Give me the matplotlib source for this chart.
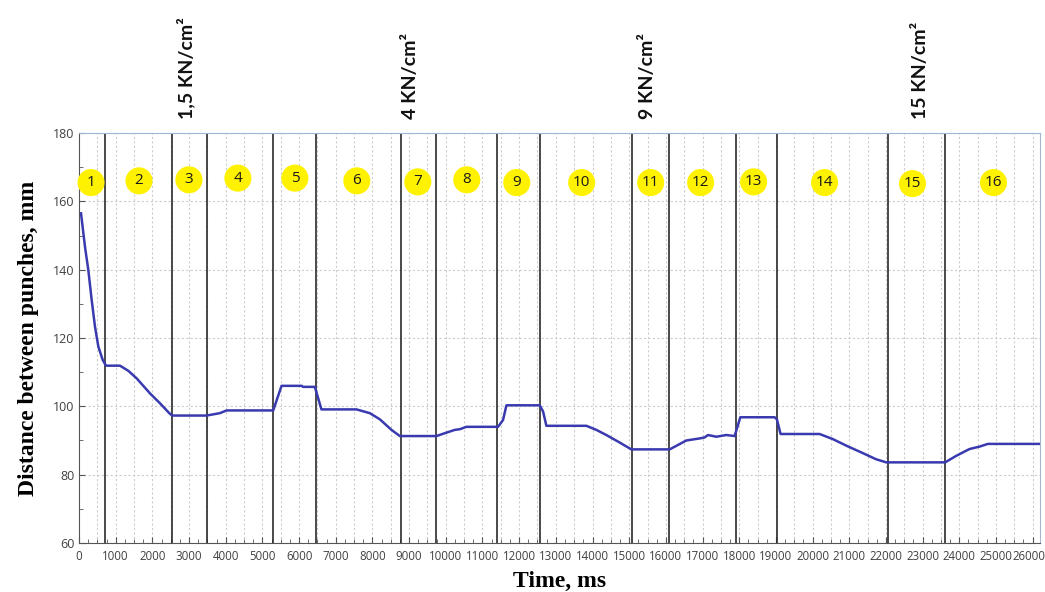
import numpy as np
import matplotlib.pyplot as plt
import matplotlib.transforms as mtransforms
from matplotlib.ticker import MultipleLocator

# curve
time_ms = [55, 163, 254, 346, 436, 527, 645, 736, 1117, 1344, 1571, 1935, 2207, 2461, 2540,
           3480, 3840, 4025, 5295, 5522, 6070, 6110, 6430, 6610,
           7566, 7929, 8202, 8520, 8747, 9746, 10018, 10245, 10381, 10563,
           11425, 11561, 11653, 12561, 12652, 12743, 13833, 14106, 14378, 14741, 15059,
           16104, 16558, 16921, 17057, 17148, 17375, 17648, 17875, 18030, 18965, 19027, 19128,
           20191, 20554, 20917, 21371, 21734, 22008, 23615, 23915, 24278, 24550, 24777, 26185]
distance = [156.5, 146.7, 139.9, 131.1, 123.3, 117.5, 113.6, 111.9, 111.9, 110.4, 108.2, 103.8, 100.9, 98.0, 97.3,
            97.3, 98.0, 98.8, 98.8, 106.0, 106.0, 105.7, 105.7, 99.1,
            99.1, 98.0, 96.2, 93.1, 91.3, 91.3, 92.3, 93.1, 93.3, 94.0,
            94.0, 96.0, 100.3, 100.3, 98.5, 94.3, 94.3, 93.1, 91.6, 89.4, 87.4,
            87.4, 90.0, 90.6, 90.9, 91.6, 91.1, 91.6, 91.3, 96.8, 96.8, 96.2, 91.9,
            91.9, 90.4, 88.5, 86.3, 84.5, 83.6, 83.6, 85.5, 87.5, 88.2, 89.0, 89.0]

# stage boundaries (ms)
boundaries = [720, 2540, 3480, 5290, 6450, 8770, 9730, 11400, 12580,
              15090, 16090, 17900, 19030, 22050, 23610]

# stage numbers
stages = [str(i) for i in range(1, 17)]
stage_x = [327, 1635, 2997, 4332, 5886, 7575, 9237, 10572, 11935,
           13706, 15586, 16948, 18392, 20327, 22725, 24932]
stage_y = [165.5, 166.0, 166.3, 166.8, 166.8, 166.0, 165.7, 166.3, 165.5,
           165.5, 165.5, 165.5, 165.7, 165.5, 165.2, 165.5]

# pressure notes
pressures = ['1,5 KN/cm²', '4 KN/cm²', '9 KN/cm²', '15 KN/cm²']
pressure_x = [2916, 9046, 15504, 22943]

fig = plt.figure(figsize=(10.45, 5.92), dpi=100, facecolor='white')
ax = fig.add_axes([0.0756, 0.0828, 0.9196, 0.6925])

ax.set_xlim(0, 26200)
ax.set_ylim(60, 180)

# grid
ax.xaxis.set_major_locator(MultipleLocator(1000))
ax.xaxis.set_minor_locator(MultipleLocator(250))
ax.yaxis.set_major_locator(MultipleLocator(20))
ax.yaxis.set_minor_locator(MultipleLocator(10))
for gx in np.arange(500, 26200, 500):
    ax.axvline(gx, color='#cccccc', lw=0.8, ls=(0, (2, 2)), zorder=0)
for gy in range(80, 180, 20):
    ax.axhline(gy, color='#cccccc', lw=0.8, ls=(0, (2, 2)), zorder=0)

# stage boundaries
for b in boundaries:
    ax.axvline(b, color='#2b2b2b', lw=1.2, zorder=2)

ax.plot(time_ms, distance, color='#3a3ab0', lw=1.8, zorder=3)

# stage circles
ax.scatter(stage_x, stage_y, s=380, color='#fff200', edgecolors='none', zorder=4, clip_on=False)
for s, x, y in zip(stages, stage_x, stage_y):
    ax.text(x, y, s, ha='center', va='center', fontsize=11, family='Open Sans',
            color='#1a1a1a', zorder=5)

# pressure labels above the frame
for p, x in zip(pressures, pressure_x):
    ax.text(x, 184, p, rotation=90, ha='center', va='bottom', fontsize=14,
            family='Lato', fontweight='bold', color='#111111', clip_on=False)

# spines and ticks
ax.spines['top'].set_color('#9fb3d6')
ax.spines['right'].set_color('#a8b8d0')
ax.spines['left'].set_color('#555555')
ax.spines['bottom'].set_color('#555555')
ax.tick_params(axis='both', which='both', direction='in', colors='#555555',
               labelcolor='#404040', labelsize=8.3)
ax.tick_params(axis='y', which='major', labelsize=9)
ax.tick_params(axis='both', which='major', length=4)
ax.tick_params(axis='both', which='minor', length=3)
ax.tick_params(axis='x', which='major', pad=5)
for lab in ax.get_xticklabels() + ax.get_yticklabels():
    lab.set_family('Open Sans')

# keep the last x label inside the figure
fig.canvas.draw()
last = [t for t in ax.get_xticklabels() if t.get_text() == '26000']
for t in last:
    t.set_transform(t.get_transform() + mtransforms.ScaledTranslation(-4 / 100, 0, fig.dpi_scale_trans))

ax.set_xlabel('Time, ms', family='Liberation Serif', fontweight='bold', fontsize=17, labelpad=6)
ax.set_ylabel('Distance between punches, mm', family='Liberation Serif', fontweight='bold',
              fontsize=17, labelpad=10)

plt.savefig('out.png', dpi=100, facecolor='white')
